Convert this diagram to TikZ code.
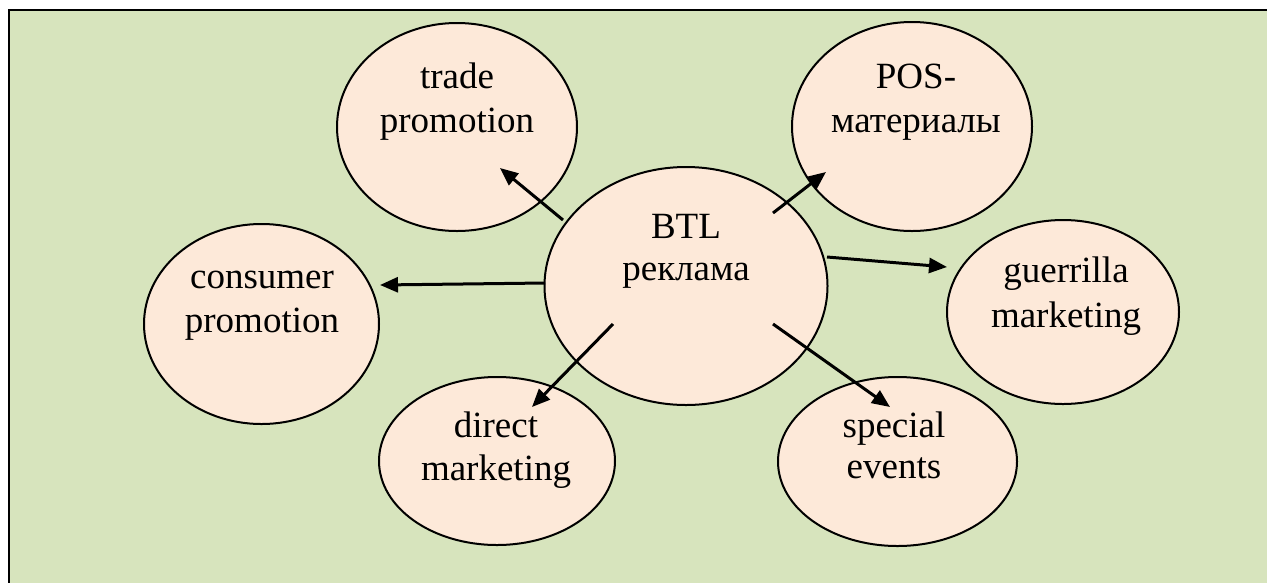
\documentclass[tikz,border=0pt]{standalone}
\usepackage{fontspec}
\setmainfont{Liberation Serif}
\usetikzlibrary{shapes.geometric,arrows.meta}
\definecolor{bggreen}{RGB}{215,228,189}
\definecolor{peach}{RGB}{253,233,217}
\newcommand{\twolines}[2]{\begin{tabular}[t]{@{}c@{}}#1\\#2\end{tabular}}
\tikzset{
  ell/.style={ellipse, draw=black, line width=2pt, fill=peach, inner sep=0pt},
  lbl/.style={anchor=base, inner sep=0pt, font=\fontsize{37}{44}\selectfont},
  arr/.style={line width=3pt, -{Triangle[length=18pt,width=15pt]}},
}
\begin{document}
\begin{tikzpicture}[x=1pt,y=-1pt]
\useasboundingbox (0,0) rectangle (1267,582);
\draw[line width=2pt, fill=bggreen] (9,10) rectangle (1290,600);

% ellipses
\node[ell, minimum width=283pt, minimum height=238pt] (btl) at (686,286) {};
\node[ell, minimum width=240pt, minimum height=208pt] (trade) at (457,127) {};
\node[ell, minimum width=240pt, minimum height=209pt] (pos) at (912,126.5) {};
\node[ell, minimum width=235pt, minimum height=200pt] (cons) at (261.5,324) {};
\node[ell, minimum width=232pt, minimum height=184pt] (guer) at (1063,312) {};
\node[ell, minimum width=236pt, minimum height=168pt] (direct) at (497,461) {};
\node[ell, minimum width=239pt, minimum height=169pt] (special) at (897.5,461.5) {};

% labels
\node[lbl, font=\fontsize{37}{42}\selectfont] (btl-t) at (686,238) {\twolines{BTL}{реклама}};
\node[lbl] (trade-t) at (457,88) {\twolines{trade}{promotion}};
\node[lbl] (pos-t) at (916,88) {\twolines{POS-}{материалы}};
\node[lbl] (cons-t) at (262,288) {\twolines{consumer}{promotion}};
\node[lbl, font=\fontsize{37}{45}\selectfont] (guer-t) at (1066,282) {\twolines{guerrilla}{marketing}};
\node[lbl, font=\fontsize{37}{43}\selectfont] (direct-t) at (496,437) {\twolines{direct}{marketing}};
\node[lbl, font=\fontsize{37}{41}\selectfont] (special-t) at (894,437) {\twolines{special}{events}};

% arrow end points
\coordinate (btl-a1) at (563,220);  \coordinate (trade-in) at (500,168);
\coordinate (btl-a2) at (773,213);  \coordinate (pos-in) at (826,172);
\coordinate (btl-a3) at (827,257);  \coordinate (guer-in) at (947,267);
\coordinate (btl-a4) at (545,283);  \coordinate (cons-in) at (380,285);
\coordinate (btl-a5) at (613,324);  \coordinate (direct-in) at (532,407);
\coordinate (btl-a6) at (773,324);  \coordinate (special-in) at (890,407);

\draw[arr] (btl-a1) -- (trade-in);
\draw[arr] (btl-a2) -- (pos-in);
\draw[arr] (btl-a3) -- (guer-in);
\draw[arr] (btl-a4) -- (cons-in);
\draw[arr] (btl-a5) -- (direct-in);
\draw[arr] (btl-a6) -- (special-in);
\end{tikzpicture}
\end{document}
